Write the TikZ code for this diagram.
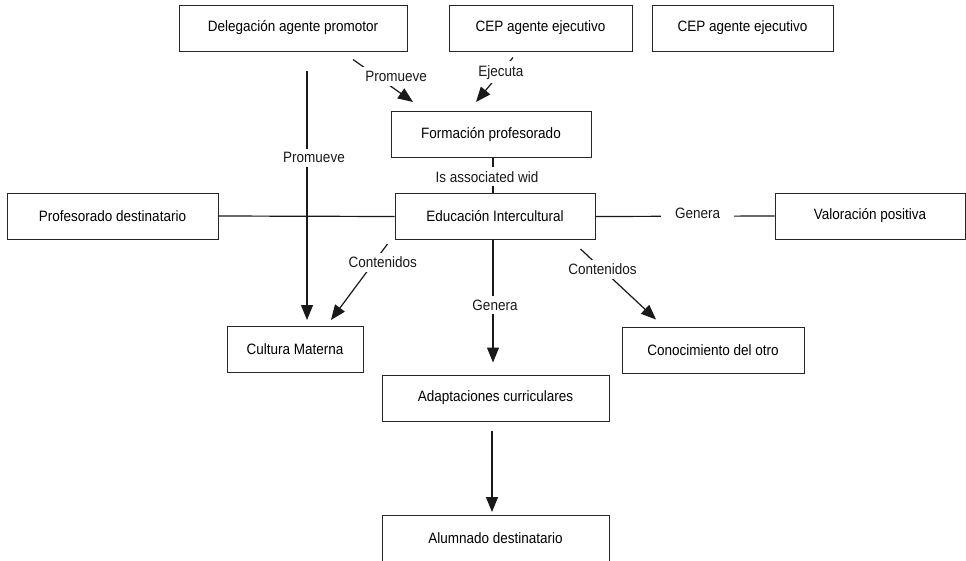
\documentclass[tikz,border=0pt]{standalone}
\usepackage{fontspec}
\setmainfont{Liberation Sans}[FakeStretch=0.9]
\usetikzlibrary{arrows.meta}
\begin{document}
\begin{tikzpicture}[x=1pt,y=-1pt,
  txt/.style={font=\fontsize{15}{18}\selectfont},
  box/.style={txt,draw=black!85,line width=1pt,minimum height=46pt,inner sep=0pt},
  lbl/.style={txt,fill=white,inner sep=4pt},
  conn/.style={line width=1.2pt,black!90},
  arr/.style={conn,-{Triangle[length=15pt,width=12pt]}}]
\useasboundingbox (0,0) rectangle (966,560);
\fill[white] (0,0) rectangle (966,560);
% boxes
\node[box,minimum width=228pt] (deleg) at (293,28) {Delegación agente promotor};
\node[box,minimum width=183pt] (cep1) at (540.5,28) {CEP agente ejecutivo};
\node[box,minimum width=181pt] (cep2) at (742.5,28) {CEP agente ejecutivo};
\node[box,minimum width=200pt] (form) at (491,134.5) {Formación profesorado};
\node[box,minimum width=200pt] (educ) at (495,216.5) {Educación Intercultural};
\node[box,minimum width=211pt] (prof) at (112.5,216) {Profesorado destinatario};
\node[box,minimum width=190pt] (valor) at (870,216) {Valoración positiva};
\node[box,minimum width=136pt] (cult) at (295,349.5) {Cultura Materna};
\node[box,minimum width=182pt] (conoc) at (713,350) {Conocimiento del otro};
\node[box,minimum width=227pt] (adapt) at (495.5,398) {Adaptaciones curriculares};
\node[box,minimum width=227pt] (alum) at (495.5,538.5) {Alumnado destinatario};
% connectors
\draw[arr] ([xshift=14pt,yshift=-19pt]deleg.south) -- node[lbl,pos=0.35,xshift=7pt] (l1) {Promueve} ([xshift=12pt,yshift=6pt]cult.north);
\draw[arr] ([xshift=60pt,yshift=-8pt]deleg.south) -- node[lbl,pos=0.72,yshift=13.5pt] (l2) {Promueve} ([xshift=-78pt,yshift=9pt]form.north);
\draw[arr] ([xshift=-27.5pt,yshift=-6pt]cep1.south) -- node[lbl,pos=0.33] (l3) {Ejecuta} ([xshift=-15pt,yshift=9pt]form.north);
\draw[conn] ([xshift=2pt]form.south) -- node[lbl,pos=0.54,xshift=-6pt] (l4) {Is associated wid} ([xshift=-2pt]educ.north);
\draw[conn] (prof.east) -- (educ.west);
\draw[conn] (educ.east) -- node[lbl,pos=0.57,yshift=3pt,inner xsep=14pt] (l5) {Genera} (valor.west);
\draw[arr] ([xshift=-7pt,yshift=-4pt]educ.south west) -- node[lbl,pos=0.244,xshift=9pt] (l6) {Contenidos} ([xshift=36pt,yshift=6pt]cult.north);
\draw[arr] ([xshift=-2pt]educ.south) -- node[lbl,pos=0.53,xshift=2pt] (l7) {Genera} ([xshift=-2.5pt,yshift=12pt]adapt.north);
\draw[arr] ([xshift=-15pt,yshift=-9pt]educ.south east) -- node[lbl,pos=0.29] (l8) {Contenidos} ([xshift=-57pt,yshift=7pt]conoc.north);
\draw[arr] ([xshift=-3.5pt,yshift=-9pt]adapt.south) -- ([xshift=-3.5pt,yshift=3pt]alum.north);
\end{tikzpicture}
\end{document}
